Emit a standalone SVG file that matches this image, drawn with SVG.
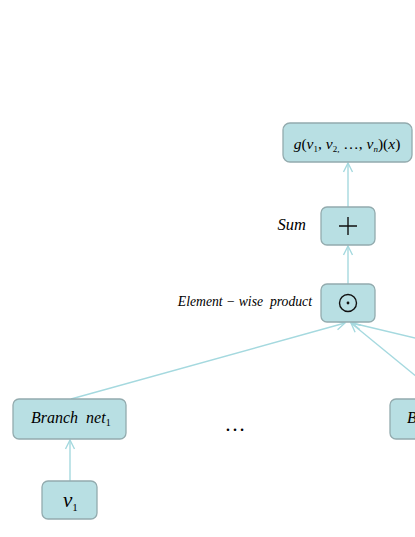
<svg xmlns="http://www.w3.org/2000/svg" width="415" height="537" viewBox="0 0 415 537">
<defs>
<style>
.box{fill:#b8dfe3;stroke:#93abae;stroke-width:1.3}
.edge{stroke:#a5d9df;stroke-width:1.4;fill:none;marker-end:url(#arr)}
.t{font-family:"Liberation Serif","Times New Roman",serif;fill:#000}
.i{font-style:italic}
.sym{stroke:#111;stroke-width:1.4;fill:none}
</style>
<marker id="arr" markerUnits="userSpaceOnUse" markerWidth="12" markerHeight="12" viewBox="0 0 12 12" refX="10" refY="6" orient="auto">
<path d="M1,1.5 L10,6 L1,10.5" fill="none" stroke="#a5d9df" stroke-width="1.4"/>
</marker>
</defs>
<rect width="415" height="537" fill="#fff"/>
<g id="connectors">
<line class="edge" x1="348" y1="207" x2="348" y2="163"/>
<line class="edge" x1="348" y1="284" x2="348" y2="246"/>
<line class="edge" x1="71" y1="399" x2="345" y2="323"/>
<line class="edge" x1="444" y1="399" x2="351" y2="323"/>
<line class="edge" x1="671" y1="399" x2="352" y2="323"/>
<line class="edge" x1="70" y1="481" x2="70" y2="440"/>
</g>
<g id="output">
<rect class="box" x="283" y="123" width="129" height="39" rx="7"/>
<text class="t" x="347" y="149" font-size="15.5" text-anchor="middle"><tspan class="i">g</tspan>(<tspan class="i">v</tspan><tspan font-size="9" dy="3">1</tspan><tspan dy="-3">, </tspan><tspan class="i">v</tspan><tspan font-size="9" dy="3">2,</tspan><tspan dy="-3"> …, </tspan><tspan class="i">v</tspan><tspan class="i" font-size="9" dy="3">n</tspan><tspan dy="-3">)(</tspan><tspan class="i">x</tspan>)</text>
</g>
<g id="sum">
<rect class="box" x="321" y="207" width="54" height="38" rx="6"/>
<path class="sym" d="M339,226 H357 M348,217 V235"/>
<text class="t i" x="306" y="230" font-size="16.5" text-anchor="end">Sum</text>
</g>
<g id="product">
<rect class="box" x="321" y="284" width="54" height="38" rx="6"/>
<circle class="sym" cx="348" cy="303" r="8.5"/>
<circle cx="348" cy="303" r="1.4" fill="#111"/>
<text class="t i" x="312" y="306" font-size="13.7" text-anchor="end" xml:space="preserve">Element − wise  product</text>
</g>
<g id="branch1">
<rect class="box" x="13" y="399" width="113" height="40" rx="6"/>
<text class="t i" x="31" y="423" font-size="16" xml:space="preserve">Branch  net<tspan font-style="normal" font-size="10" dy="3">1</tspan></text>
</g>
<g id="branchn">
<rect class="box" x="390" y="399" width="113" height="40" rx="6"/>
<text class="t i" x="407" y="423" font-size="16" xml:space="preserve">Branch  net<tspan font-size="10" dy="3">n</tspan></text>
</g>
<g id="v1">
<rect class="box" x="42" y="481" width="55" height="38" rx="6"/>
<text class="t i" x="63" y="507" font-size="21">v<tspan font-style="normal" font-size="11" dy="4">1</tspan></text>
</g>
<g id="dots">
<text class="t" x="235" y="431" font-size="21" text-anchor="middle">…</text>
</g>
</svg>
